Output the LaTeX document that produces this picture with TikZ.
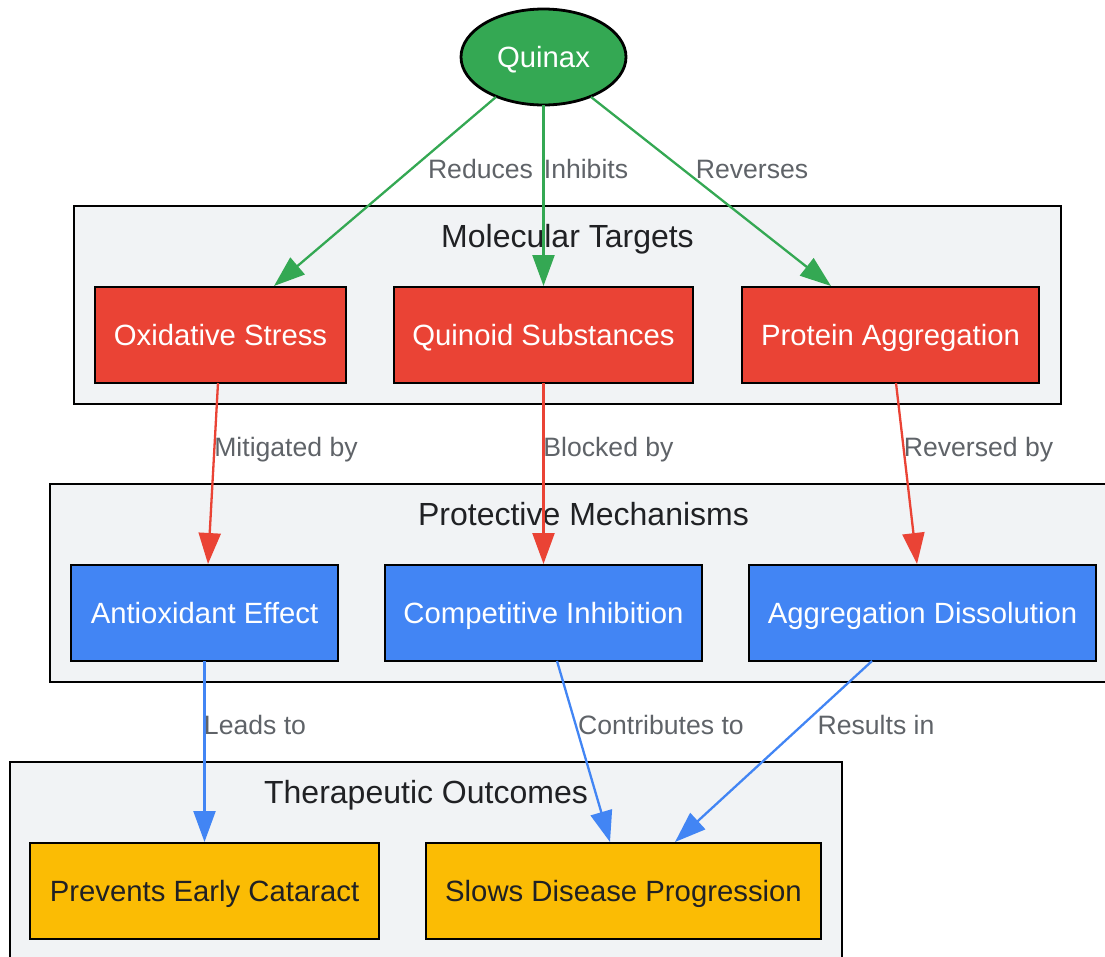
\documentclass[tikz,border=0pt]{standalone}
\usepackage{fontspec}
\setmainfont{Liberation Sans}
\usetikzlibrary{shapes.geometric,arrows.meta}
\definecolor{cgreen}{HTML}{34A853}
\definecolor{cred}{HTML}{EA4335}
\definecolor{cblue}{HTML}{4285F4}
\definecolor{cyellow}{HTML}{FBBC04}
\definecolor{cgroup}{HTML}{F1F3F5}
\definecolor{clabel}{HTML}{5F6368}
\definecolor{cink}{HTML}{202124}
\tikzset{
  x=1pt,y=-1pt,
  groupbox/.style={draw=black,line width=2.8pt,fill=cgroup,inner sep=0pt,outer sep=0pt,anchor=north west},
  grouptitle/.style={font=\fontsize{32}{36}\selectfont,text=cink,inner sep=0pt,text height=28pt,text depth=5pt},
  nodetext/.style={font=\fontsize{29.3}{34}\selectfont,text height=27pt,text depth=6pt},
  box/.style={draw=black,line width=2.8pt,inner sep=0pt,outer sep=0pt,anchor=north west,nodetext},
  redbox/.style={box,fill=cred,text=white},
  bluebox/.style={box,fill=cblue,text=white},
  yellowbox/.style={box,fill=cyellow,text=cink},
  link/.style={line width=2.3pt,-{Triangle[length=31pt,width=22pt]}},
  edgelabel/.style={font=\fontsize{26.6}{30}\selectfont,text=clabel,inner sep=0pt,anchor=center,text height=23pt,text depth=5pt}
}
\begin{document}
\begin{tikzpicture}
\useasboundingbox (0,0) rectangle (1105,956);
\node[groupbox,minimum width=987pt,minimum height=198pt] (g1) at (74,206) {};
\node[groupbox,minimum width=1070pt,minimum height=198pt] (g2) at (50,484) {};
\node[groupbox,minimum width=832pt,minimum height=210pt] (g3) at (10,762) {};
\node[grouptitle] (t1) at (567.5,236) {Molecular Targets};
\node[grouptitle] (t2) at (583.5,514) {Protective Mechanisms};
\node[grouptitle] (t3) at (426,792) {Therapeutic Outcomes};
\node[ellipse,draw=black,line width=2.8pt,fill=cgreen,text=white,minimum width=165pt,minimum height=96pt,inner sep=0pt,nodetext] (q) at (543.5,57) {Quinax};
\node[redbox,minimum width=251pt,minimum height=96pt] (a) at (95,287) {Oxidative Stress};
\node[redbox,minimum width=299pt,minimum height=96pt] (b) at (394,287) {Quinoid Substances};
\node[redbox,minimum width=297pt,minimum height=96pt] (c) at (742,287) {Protein Aggregation};
\node[bluebox,minimum width=267pt,minimum height=96pt] (d) at (71,565) {Antioxidant Effect};
\node[bluebox,minimum width=317pt,minimum height=96pt] (e) at (385,565) {Competitive Inhibition};
\node[bluebox,minimum width=347pt,minimum height=96pt] (f) at (749,565) {Aggregation Dissolution};
\node[yellowbox,minimum width=349pt,minimum height=96pt] (h) at (30,843) {Prevents Early Cataract};
\node[yellowbox,minimum width=395pt,minimum height=96pt] (i) at (426,843) {Slows Disease Progression};
\coordinate (qa) at (496,97);
\coordinate (qb) at (543.5,105);
\coordinate (qc) at (591,97);
\coordinate (ae) at (274,286);
\coordinate (be) at (543.5,286);
\coordinate (ce) at (831,286);
\coordinate (as) at (218,383);
\coordinate (bs) at (543.5,383);
\coordinate (cs) at (896,383);
\coordinate (de) at (208,564);
\coordinate (ee) at (543.5,564);
\coordinate (fe) at (917,564);
\coordinate (ds) at (204.5,661);
\coordinate (es) at (557,661);
\coordinate (fs) at (872,661);
\coordinate (he) at (204.5,842);
\coordinate (ie1) at (610,842);
\coordinate (ie2) at (675,842);
\draw[link,cgreen] (qa) -- (ae);
\draw[link,cgreen] (qb) -- (be);
\draw[link,cgreen] (qc) -- (ce);
\draw[link,cred] (as) -- (de);
\draw[link,cred] (bs) -- (ee);
\draw[link,cred] (cs) -- (fe);
\draw[link,cblue] (ds) -- (he);
\draw[link,cblue] (es) -- (ie1);
\draw[link,cblue] (fs) -- (ie2);
\node[edgelabel] (l1) at (480.5,169) {Reduces};
\node[edgelabel] (l2) at (586,169) {Inhibits};
\node[edgelabel] (l3) at (752,169) {Reverses};
\node[edgelabel] (l4) at (286,447) {Mitigated by};
\node[edgelabel] (l5) at (608.5,447) {Blocked by};
\node[edgelabel] (l6) at (978.5,447) {Reversed by};
\node[edgelabel] (l7) at (255,725) {Leads to};
\node[edgelabel] (l8) at (661,725) {Contributes to};
\node[edgelabel] (l9) at (876,725) {Results in};
\end{tikzpicture}
\end{document}
